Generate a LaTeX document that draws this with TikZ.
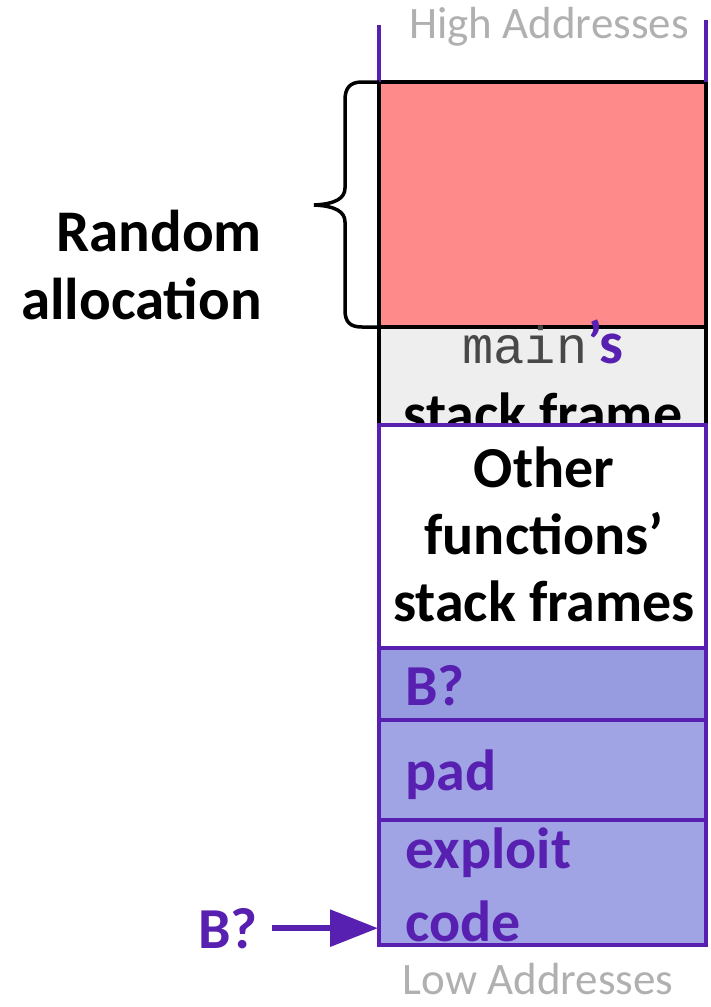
\documentclass[tikz,border=0pt]{standalone}
\usepackage{fontspec}
\setmainfont{Carlito}
\newfontfamily\codefont{Liberation Mono}
\usetikzlibrary{arrows.meta,positioning}

\definecolor{stackpurple}{RGB}{88,32,176}
\definecolor{randred}{RGB}{255,138,138}
\definecolor{framegray}{RGB}{238,238,238}
\definecolor{bufblue}{RGB}{151,155,224}
\definecolor{padblue}{RGB}{160,164,228}
\definecolor{addrgray}{RGB}{176,176,176}
\definecolor{codegray}{RGB}{72,72,72}

\begin{document}
\begin{tikzpicture}[x=1pt, y=-1pt, node distance=0pt,
    cell/.style = {draw=stackpurple, line width=4pt, minimum width=327pt, inner sep=0pt, outer sep=0pt},
    big/.style = {font=\fontsize{58}{67}\selectfont\bfseries, inner sep=0pt},
    addr/.style = {font=\fontsize{45}{54}\selectfont, text=addrgray, inner sep=0pt},
    rail/.style = {draw=stackpurple, line width=4pt},
    ptr/.style = {draw=stackpurple, line width=6pt, -{Triangle[length=48pt, width=36pt]}}]
    \useasboundingbox (0,0) rectangle (710,1007);

    % stack, from high to low addresses
    \node[cell, draw=black, fill=randred, minimum height=245pt, anchor=north west] (rand) at (379,82) {};
    \node[cell, draw=black, fill=framegray, minimum height=98pt] (mainf) [below=of rand] {};
    \node (mainname) [anchor=base, inner sep=0pt] at (543,363) {{\fontsize{52}{60}\codefont\color{codegray}main}{\fontsize{60}{67}\selectfont\bfseries\color{stackpurple}’s}};
    \node[big, anchor=base] (mainsf) at (543,433) {stack frame};
    \node[cell, fill=white, minimum height=223pt] (other) [below=of mainf] {};
    \node[cell, fill=bufblue, minimum height=72pt] (bq) [below=of other] {};
    \node[cell, fill=padblue, minimum height=100pt] (pad) [below=of bq] {};
    \node[cell, fill=padblue, minimum height=125pt] (exploit) [below=of pad] {};

    \draw[rail] (rand.north west) -- ++(0,-57);
    \draw[rail] (rand.north east) -- ++(0,-62);

    % cell labels
    \node[big, align=center, anchor=south] (othertext) at (544,622) {Other\\functions’\\stack frames};
    \node[big, text=stackpurple, anchor=base west] (bqtext) at (405,705) {B?};
    \node[big, text=stackpurple, anchor=base west] (padtext) at (405,790) {pad};
    \node[big, text=stackpurple, align=left, anchor=south west, font=\fontsize{58}{73}\selectfont\bfseries] (exploittext) at (405,942) {exploit\\code};

    \node[addr, anchor=base] (high) at (549,38) {High Addresses};
    \node[addr, anchor=base] (low) at (538,994) {Low Addresses};

    % brace over the random part
    \node[big, align=right, anchor=south east, font=\fontsize{59}{68}\selectfont\bfseries] (randtext) at (262,320) {Random\\allocation};
    \draw[line width=3.5pt] (rand.north west) -- (362,82) .. controls (350,82) and (345,88) .. (345,100) -- (345,188)
        .. controls (345,198) and (336,204) .. (314,205) .. controls (336,206) and (345,212) .. (345,222) -- (345,310)
        .. controls (345,322) and (350,327) .. (362,327) -- (rand.south west);

    % guessed start address
    \node[big, text=stackpurple, anchor=base east] (guess) at (258,948) {B?};
    \draw[ptr, shorten <=14pt, shorten >=1pt] (guess) -- (guess -| exploit.west);
\end{tikzpicture}
\end{document}
